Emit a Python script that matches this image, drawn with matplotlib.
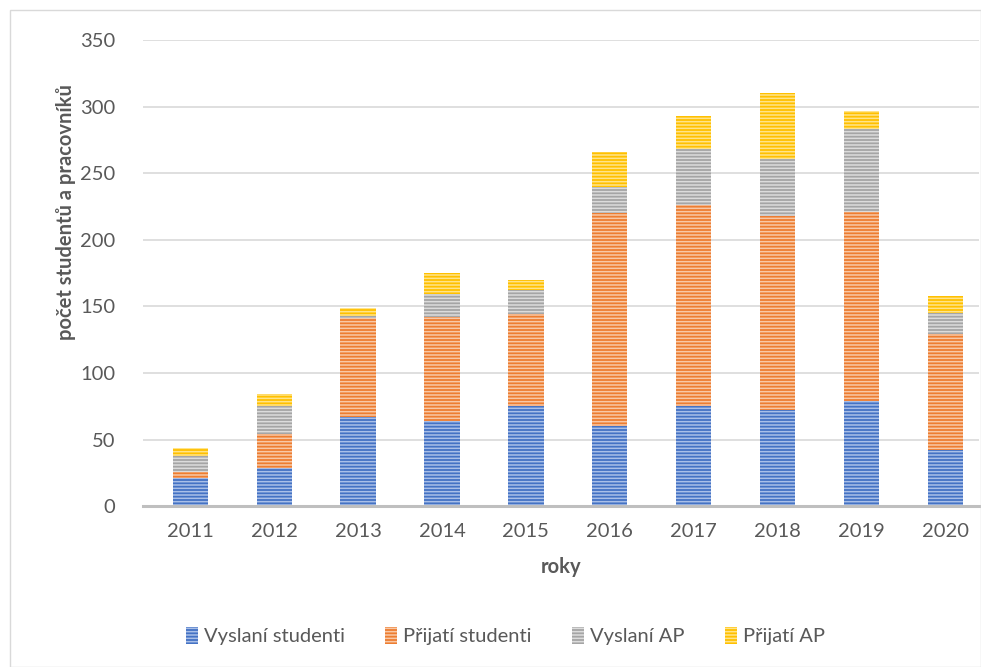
import matplotlib
matplotlib.use("Agg")
import matplotlib.pyplot as plt
from matplotlib.patches import Rectangle
import numpy as np

# Data
years = ['2011', '2012', '2013', '2014', '2015', '2016', '2017', '2018', '2019', '2020']
vyslani_studenti = [21, 29, 67, 64, 75, 60, 75, 72, 79, 42]
prijati_studenti = [5, 25, 74, 78, 69, 160, 151, 146, 142, 87]
vyslani_ap = [12, 21, 2, 17, 18, 20, 42, 43, 62, 16]
prijati_ap = [6, 9, 6, 16, 8, 26, 25, 49, 14, 13]

series = [
    ('Vyslaní studenti', vyslani_studenti, '#4472C4', '#A9BFE8'),
    ('Přijatí studenti', prijati_studenti, '#ED7D31', '#F8C8A6'),
    ('Vyslaní AP', vyslani_ap, '#A5A5A5', '#DCDCDC'),
    ('Přijatí AP', prijati_ap, '#FFC000', '#FFE48A'),
]

plt.rcParams['font.family'] = ['Lato', 'DejaVu Sans']
plt.rcParams['hatch.linewidth'] = 1.1

fig = plt.figure(figsize=(9.81, 6.67), dpi=100)
ax = fig.add_axes([0.146, 0.241, 0.852, 0.699])

# Outer chart border
fig.patches.append(Rectangle((0.010, 0.0), 0.99, 0.985, transform=fig.transFigure,
                             fill=False, edgecolor='#D9D9D9', linewidth=1.0))

x = np.arange(len(years))
bottom = np.zeros(len(years))
for label, values, color, light in series:
    ax.bar(x, values, width=0.42, bottom=bottom, color=color, edgecolor=light,
           linewidth=0, hatch='-----', label=label, zorder=3)
    bottom += np.array(values)

ax.set_ylim(0, 350)
ax.set_yticks(range(0, 351, 50))
ax.set_xlim(-0.56, 9.4)
ax.set_xticks(x)
ax.set_xticklabels(years)

ax.grid(axis='y', color='#D9D9D9', linewidth=1.2, zorder=0)
ax.set_axisbelow(True)
for side in ['top', 'right', 'left']:
    ax.spines[side].set_visible(False)
ax.spines['bottom'].set_color('#BFBFBF')
ax.spines['bottom'].set_linewidth(2.2)
ax.spines['bottom'].set_zorder(4)
ax.tick_params(length=0, labelsize=14.5, colors='#595959', pad=12)
ax.tick_params(axis='y', pad=20)

ax.set_xlabel('roky', fontsize=14.5, fontweight='bold', color='#595959', labelpad=12)
ax.set_ylabel('počet studentů a pracovníků', fontsize=14.5, fontweight='bold',
              color='#595959')
ax.yaxis.set_label_coords(-0.08, 0.63)

leg = fig.legend(loc='center', bbox_to_anchor=(0.515, 0.046), ncol=4, frameon=False,
                 fontsize=14.5, handlelength=0.6, handleheight=0.9, handletextpad=0.3,
                 columnspacing=2.0, labelcolor='#595959')

fig.savefig('out.png', dpi=100)
